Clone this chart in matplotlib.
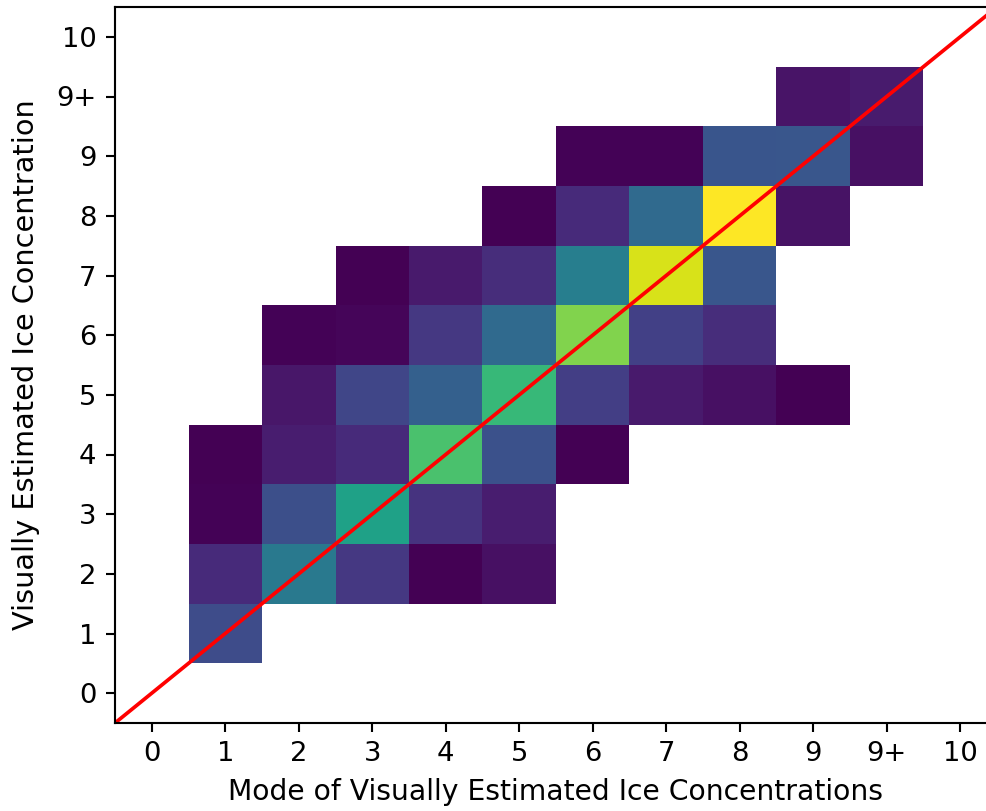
import matplotlib
matplotlib.use('Agg')
import matplotlib.pyplot as plt
import numpy as np

labels = ['0', '1', '2', '3', '4', '5', '6', '7', '8', '9', '9+', '10']

# counts[y][x]; 0 = no data
counts = [
    [0, 0, 0, 0, 0, 0, 0, 0, 0, 0, 0, 0],
    [0, 35, 0, 0, 0, 0, 0, 0, 0, 0, 0, 0],
    [0, 19, 61, 25, 1, 7, 0, 0, 0, 0, 0, 0],
    [0, 2, 37, 86, 23, 13, 0, 0, 0, 0, 0, 0],
    [0, 1, 13, 19, 107, 38, 1, 0, 0, 0, 0, 0],
    [0, 0, 10, 32, 46, 101, 28, 11, 7, 1, 0, 0],
    [0, 0, 2, 3, 25, 52, 122, 29, 20, 0, 0, 0],
    [0, 0, 0, 1, 11, 20, 64, 141, 41, 0, 0, 0],
    [0, 0, 0, 0, 0, 1, 19, 52, 150, 8, 0, 0],
    [0, 0, 0, 0, 0, 0, 2, 2, 40, 41, 7, 0],
    [0, 0, 0, 0, 0, 0, 0, 0, 0, 9, 12, 0],
    [0, 0, 0, 0, 0, 0, 0, 0, 0, 0, 0, 0],
]

data = np.ma.masked_equal(np.array(counts, dtype=float), 0)

fig = plt.figure(figsize=(986 / 190, 811 / 190), dpi=190)
ax = fig.add_axes([115 / 986, 1 - 723 / 811, 882 / 986, 716 / 811])

edges = np.arange(len(labels) + 1) - 0.5
ax.pcolormesh(edges, edges, data, cmap='viridis')
ax.plot([-0.5, 11.5], [-0.5, 11.5], color='red', lw=1.4)

ax.set_xlim(-0.5, 11.5)
ax.set_ylim(-0.5, 11.5)
ax.set_xticks(range(len(labels)))
ax.set_xticklabels(labels, fontsize=10.4)
ax.set_yticks(range(len(labels)))
ax.set_yticklabels(labels, fontsize=10.4)
ax.set_xlabel('Mode of Visually Estimated Ice Concentrations', fontsize=10.7, labelpad=4)
ax.set_ylabel('Visually Estimated Ice Concentration', fontsize=10.9, labelpad=6)

fig.savefig('out.png', dpi=190)
